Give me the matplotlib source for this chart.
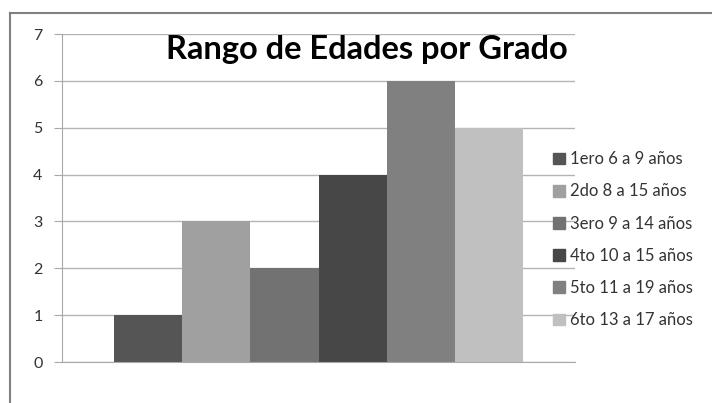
import matplotlib.pyplot as plt
from matplotlib.lines import Line2D
import numpy as np

plt.rcParams['font.family'] = ['Lato', 'DejaVu Sans']

series = ['1ero 6 a 9 años', '2do 8 a 15 años', '3ero 9 a 14 años',
          '4to 10 a 15 años', '5to 11 a 19 años', '6to 13 a 17 años']
values = [1, 3, 2, 4, 6, 5]
colors = ['#555555', '#a0a0a0', '#727272', '#474747', '#808080', '#c0c0c0']

W, H = 712, 403
fig = plt.figure(figsize=(W / 100, H / 100), dpi=100)
ax = fig.add_axes([62 / W, 1 - 362 / H, (575 - 62) / W, (362 - 34) / H])

width = 0.133
n = len(series)
offsets = (np.arange(n) - (n - 1) / 2) * width
for i in range(n):
    ax.bar(offsets[i], values[i], width, color=colors[i], label=series[i], zorder=2)

ax.set_xlim(-0.5, 0.5)
ax.set_ylim(0, 7)
ax.set_yticks(range(8))
ax.set_xticks([])
ax.grid(axis='y', color='#b4b4b4', linewidth=1, zorder=0)
for s in ['top', 'right']:
    ax.spines[s].set_visible(False)
ax.spines['left'].set_color('#a8a8a8')
ax.spines['bottom'].set_color('#a8a8a8')
ax.tick_params(axis='y', length=6, color='#a8a8a8', labelsize=11.5, labelcolor='#333333', pad=8)

fig.text(367 / W, 1 - 50 / H, 'Rango de Edades por Grado', ha='center', va='center',
         fontsize=23.5, fontweight='bold', color='black')

handles = [plt.Rectangle((0, 0), 1, 1, color=c) for c in colors]
fig.legend(handles, series, loc='upper left', bbox_to_anchor=(545 / W, 1 - 143 / H),
           frameon=False, fontsize=12, handlelength=0.7, handleheight=0.7,
           handletextpad=0.3, labelspacing=0.97, labelcolor='#333333', borderpad=0)

# outer frame
fig.add_artist(Line2D([10 / W, 1], [1 - 13 / H, 1 - 13 / H], color='#808080', lw=1.5))
fig.add_artist(Line2D([10 / W, 10 / W], [0, 1 - 13 / H], color='#808080', lw=1.5))

fig.savefig('out.png', dpi=100)
